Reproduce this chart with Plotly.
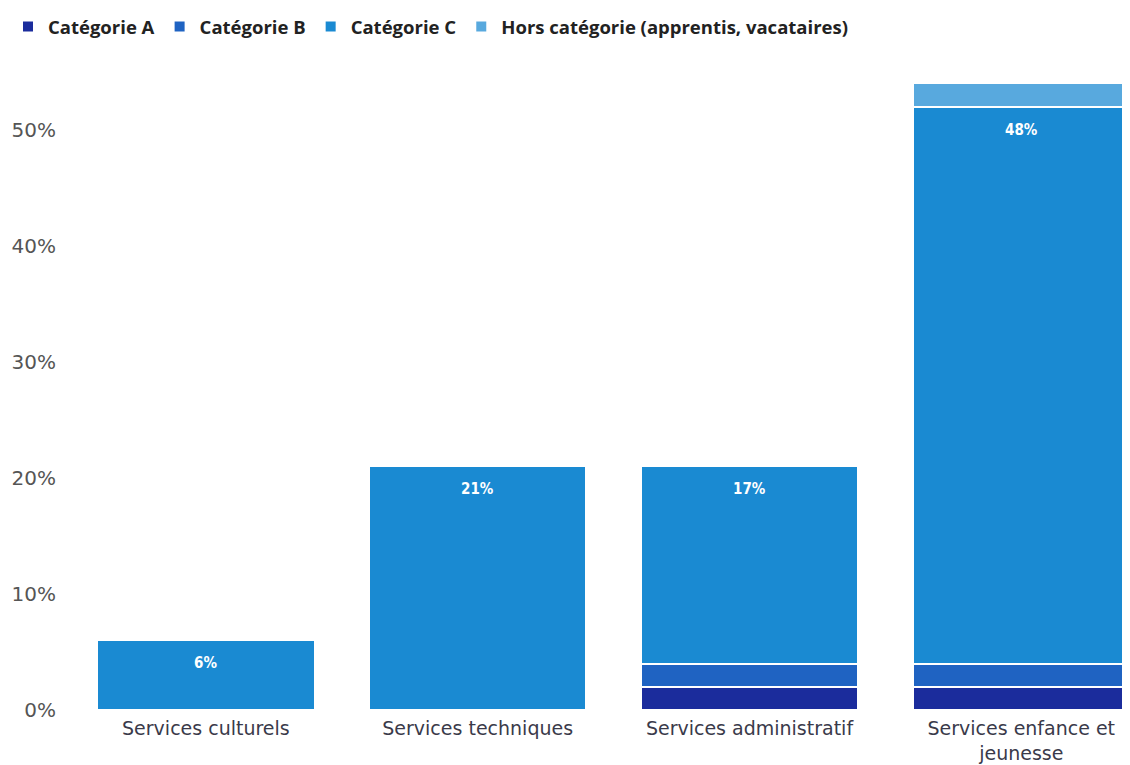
import plotly.graph_objects as go

categories = ["Services culturels", "Services techniques", "Services administratif", "Services enfance et<br>jeunesse"]
cat_a = [0, 0, 2, 2]
cat_b = [0, 0, 2, 2]
cat_c = [6, 21, 17, 48]
hors = [0, 0, 0, 2]
series_names = ["Catégorie A", "Catégorie B", "Catégorie C", "Hors catégorie (apprentis, vacataires)"]
colors = ["#1b2c9c", "#1f63c2", "#1a8ad2", "#58a9de"]
y_ticks = [0, 10, 20, 30, 40, 50]

fig = go.Figure()
for name, vals, col in zip(series_names, [cat_a, cat_b, cat_c, hors], colors):
    fig.add_trace(go.Bar(
        x=categories, y=vals, name=name,
        marker=dict(color=col, line=dict(color="white", width=2)),
        hoverinfo="skip",
    ))

for i, cat in enumerate(categories):
    top = cat_a[i] + cat_b[i] + cat_c[i]
    fig.add_annotation(
        x=cat, y=top, text=f"<b>{cat_c[i]}%</b>", showarrow=False,
        yanchor="top", yshift=-12,
        font=dict(family="DejaVu Sans Condensed", size=15, color="white"),
    )

fig.update_layout(
    barmode="stack",
    bargap=0.2,
    width=1122, height=757,
    margin=dict(l=62, r=0, t=58, b=55, autoexpand=False),
    paper_bgcolor="white", plot_bgcolor="white",
    showlegend=True,
    legend=dict(
        orientation="h", x=0, xanchor="left", xref="container",
        y=1.0, yanchor="top", yref="container",
        font=dict(family="Open Sans", size=18.5, color="#222", weight=700),
        itemclick=False, tracegroupgap=0,
        traceorder="normal",
    ),
    xaxis=dict(
        range=[-0.5, 3.4], showgrid=False, zeroline=False, showline=False,
        tickfont=dict(family="DejaVu Sans", size=19, color="#3a3a4a"),
        ticks="", automargin=False, ticklabelstandoff=5,
    ),
    yaxis=dict(
        range=[0, 55.5], tickvals=y_ticks, ticktext=[f"{v}%" for v in y_ticks],
        showgrid=False, zeroline=False, showline=False, ticks="",
        tickfont=dict(family="DejaVu Sans", size=20, color="#555"),
        ticklabelstandoff=13, automargin=False,
    ),
)

fig.write_html("out.html")
